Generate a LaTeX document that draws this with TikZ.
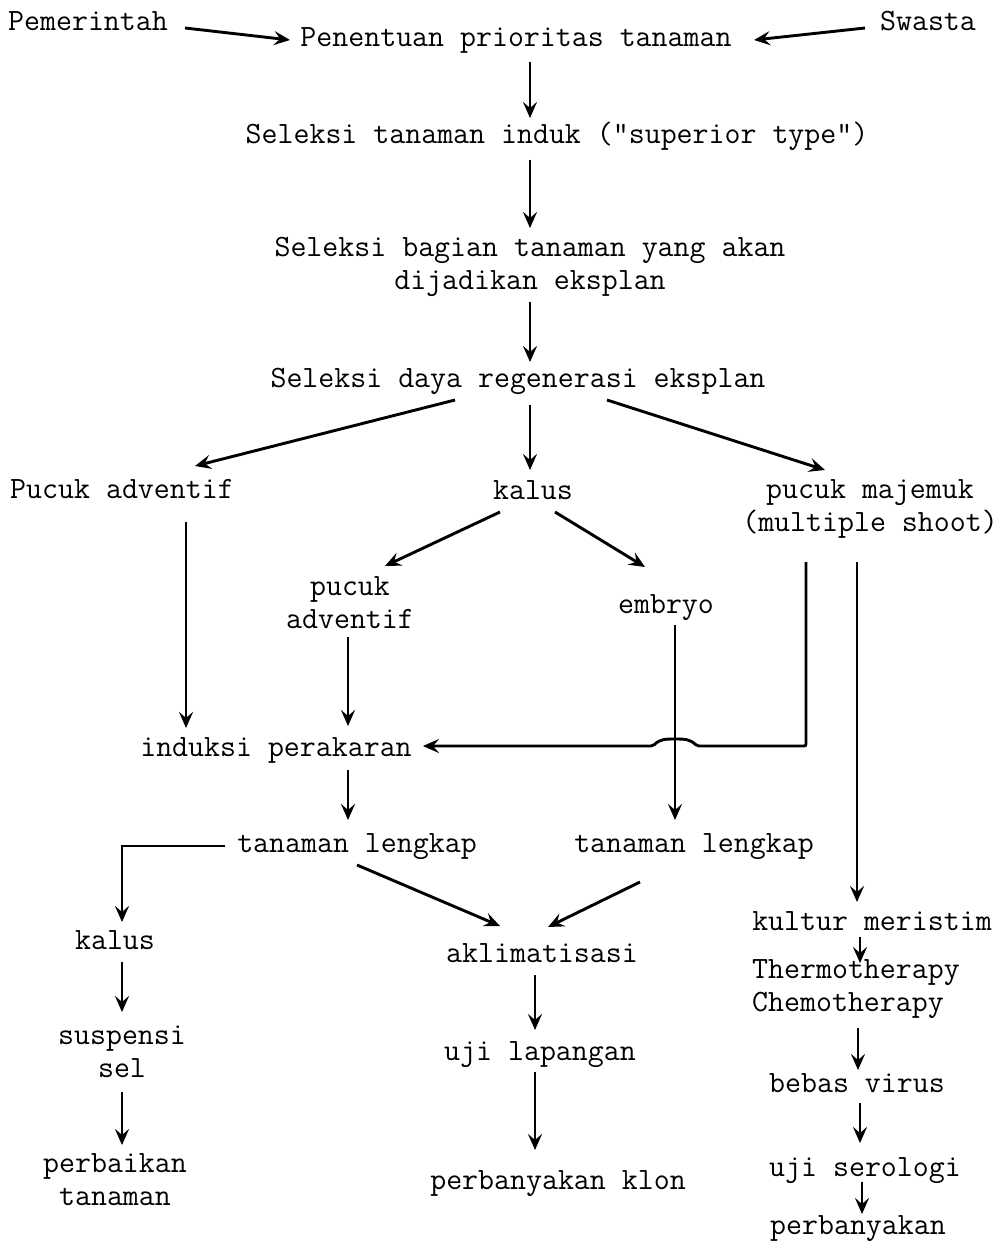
\documentclass[tikz,border=0pt]{standalone}
\usetikzlibrary{arrows.meta,calc}
\begin{document}
\begin{tikzpicture}[x=1pt,y=-1pt,
  lbl/.style={font=\fontsize{31}{33}\selectfont\ttfamily, inner sep=0pt, text height=22pt, text depth=4pt},
  mlbl/.style={font=\fontsize{31}{33}\selectfont\ttfamily, inner sep=0pt, align=center},
  arr/.style={-{Stealth[length=16pt,width=14pt,inset=6pt]}, line width=2.9pt},
  ln/.style={line width=2.9pt}]
\useasboundingbox (0,0) rectangle (1001,1241);
% nodes
\node[lbl] (pem) at (88,22) {Pemerintah};
\node[lbl] (pen) at (516,38) {Penentuan prioritas tanaman};
\node[lbl] (swa) at (928,22) {Swasta};
\node[lbl] (sti) at (557,135) {Seleksi tanaman induk ("superior type")};
\node[mlbl] (sbt) at (530,267) {Seleksi bagian tanaman yang akan\\dijadikan eksplan};
\node[lbl] (sdr) at (518,378) {Seleksi daya regenerasi eksplan};
\node[lbl] (pa1) at (122,489) {Pucuk adventif};
\node[lbl] (kal) at (533,490) {kalus};
\node[mlbl] (pm) at (870,509) {pucuk majemuk\\(multiple shoot)};
\node[mlbl] (pa2) at (350,603) {pucuk\\adventif};
\node[lbl] (emb) at (666,604) {embryo};
\node[lbl] (ind) at (276,747) {induksi perakaran};
\node[lbl] (tl1) at (357,843) {tanaman lengkap};
\node[lbl] (tl2) at (694,843) {tanaman lengkap};
\node[lbl] (kal2) at (115,940) {kalus};
\node[lbl] (akl) at (542,953) {aklimatisasi};
\node[lbl] (km) at (872,921) {kultur meristim};
\node[mlbl] (ss) at (122,1052) {suspensi\\sel};
\node[mlbl] (pt) at (115,1180) {perbaikan\\tanaman};
\node[lbl] (ujl) at (540,1051) {uji lapangan};
\node[lbl] (pk) at (558,1180) {perbanyakan klon};
\node[mlbl, align=left, anchor=west] (tc) at (752,989) {Thermotherapy\\Chemotherapy};
\node[lbl] (bv) at (857,1083) {bebas virus};
\node[lbl] (us) at (865,1167) {uji serologi};
\node[lbl] (pby) at (858,1225) {perbanyakan};
% connectors
\draw[arr] ($(pem)+(97,6)$) -- ($(pen)+(-226,2)$);
\draw[arr] ($(swa)+(-63,6)$) -- ($(pen)+(238,2)$);
\draw[arr] ($(pen)+(14,24)$) -- ($(sti)+(-27,-17)$);
\draw[arr] ($(sti)+(-27,25)$) -- ($(sbt)+(0,-39)$);
\draw[arr] ($(sbt)+(0,35)$) -- ($(sdr)+(12,-16)$);
\draw[arr] ($(sdr)+(-63,22)$) -- ($(pa1)+(73,-23)$);
\draw[arr] ($(sdr)+(12,27)$) -- ($(kal)+(-3,-20)$);
\draw[arr] ($(sdr)+(89,22)$) -- ($(pm)+(-45,-39)$);
\draw[arr] ($(kal)+(-33,22)$) -- ($(pa2)+(35,-37)$);
\draw[arr] ($(kal)+(22,22)$) -- ($(emb)+(-21,-37)$);
\draw[arr] ($(pa1)+(64,33)$) -- ($(ind)+(-90,-19)$);
\draw[arr] ($(pa2)+(-2,34)$) -- ($(ind)+(72,-21)$);
\coordinate (ms1) at ($(pm)+(-64,53)$);
\draw[arr, rounded corners=2pt] (ms1) -- (806,746) -- (697,746)
  .. controls (690,739) and (684,739) .. (675,739)
  .. controls (666,739) and (660,739) .. (653,746)
  -- ($(ind)+(147,-1)$);
\draw[arr] ($(emb)+(9,21)$) -- ($(tl2)+(-19,-23)$);
\draw[arr] ($(ind)+(72,23)$) -- ($(tl1)+(-9,-23)$);
\draw[arr] ($(tl1)+(-132,3)$) -| ($(kal2)+(7,-18)$);
\draw[arr] ($(tl1)+(0,22)$) -- ($(akl)+(-42,-27)$);
\draw[arr] ($(tl2)+(-54,39)$) -- ($(akl)+(6,-26)$);
\draw[arr] ($(akl)+(-7,22)$) -- ($(ujl)+(-5,-21)$);
\draw[arr] ($(ujl)+(-5,21)$) -- ($(pk)+(-23,-30)$);
\draw[arr] ($(kal2)+(7,22)$) -- ($(ss)+(0,-40)$);
\draw[arr] ($(ss)+(0,40)$) -- ($(pt)+(7,-35)$);
\draw[arr] ($(pm)+(-13,53)$) -- ($(km)+(-15,-19)$);
\draw[arr] ($(km)+(-12,16)$) -- ($(tc.west)+(108,-26)$);
\draw[arr] ($(tc.west)+(106,39)$) -- ($(bv)+(1,-13)$);
\draw[arr] ($(bv)+(3,20)$) -- ($(us)+(-5,-24)$);
\draw[arr] ($(us)+(-3,15)$) -- ($(pby)+(4,-11)$);
\end{tikzpicture}
\end{document}
